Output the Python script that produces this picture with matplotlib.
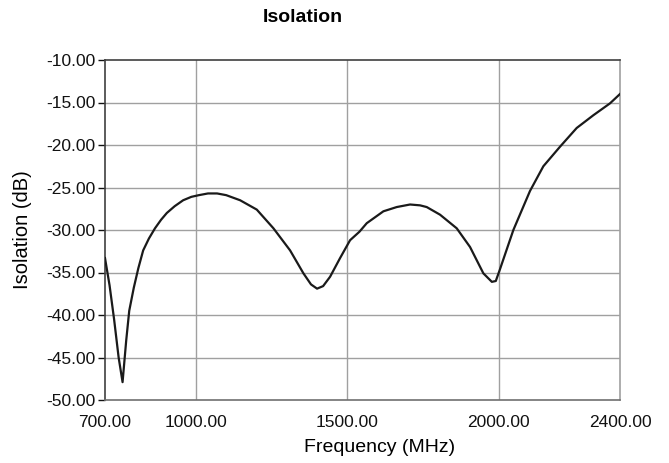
# Isolation vs frequency

import numpy as np
import matplotlib.pyplot as plt

freq_mhz = [700, 715, 730, 745, 758, 770, 780, 795, 810, 826, 845, 865, 885, 904,
            930, 958, 985, 1010, 1040, 1070, 1100, 1146, 1201, 1256, 1311, 1355,
            1380, 1400, 1420, 1443, 1476, 1509, 1540, 1564, 1619, 1663, 1707, 1740,
            1762, 1806, 1861, 1905, 1949, 1977, 1990, 2003, 2048, 2103, 2147, 2202,
            2257, 2312, 2367, 2400]
isolation_db = [-33.3, -36.5, -40.5, -45.0, -47.9, -43.0, -39.5, -36.8, -34.5, -32.4,
                -31.0, -29.8, -28.8, -28.0, -27.2, -26.5, -26.1, -25.9, -25.7, -25.7,
                -25.9, -26.5, -27.6, -29.8, -32.4, -35.1, -36.4, -36.9, -36.6, -35.5,
                -33.3, -31.2, -30.2, -29.2, -27.8, -27.3, -27.0, -27.1, -27.3, -28.2,
                -29.8, -32.0, -35.1, -36.1, -36.0, -34.7, -30.0, -25.4, -22.5, -20.2,
                -18.0, -16.5, -15.1, -14.0]

x_ticks = [700, 1000, 1500, 2000, 2400]
y_ticks = [-10, -15, -20, -25, -30, -35, -40, -45, -50]

plt.rcParams['font.family'] = ['Liberation Sans', 'DejaVu Sans']

fig = plt.figure(figsize=(6.69, 4.63), dpi=100)
ax = fig.add_axes([105/669, 1 - 400/463, 515/669, 340/463])

ax.plot(freq_mhz, isolation_db, color='#1a1a1a', lw=1.6, zorder=3)

ax.set_xlim(700, 2400)
ax.set_ylim(-50, -10)
ax.set_xticks(x_ticks)
ax.set_xticklabels(['%.2f' % v for v in x_ticks])
ax.set_yticks(y_ticks)
ax.set_yticklabels(['%.2f' % v for v in y_ticks])

# grid only on inner lines
for v in [1000, 1500, 2000]:
    ax.axvline(v, color='#a0a0a0', lw=1, zorder=1)
for v in y_ticks[1:-1]:
    ax.axhline(v, color='#a0a0a0', lw=1, zorder=1)

ax.tick_params(axis='x', length=0, pad=11, labelsize=12.5, colors='#111111')
ax.tick_params(axis='y', length=5, width=1, pad=2, labelsize=12.5, colors='#111111')

ax.spines['left'].set_color('#404040')
ax.spines['top'].set_color('#404040')
ax.spines['right'].set_color('#a0a0a0')
ax.spines['bottom'].set_color('#707070')
for s in ax.spines.values():
    s.set_linewidth(1.2)

ax.set_xlabel('Frequency (MHz)', fontsize=14)
ax.xaxis.set_label_coords((380 - 105) / 515, -39 / 340)
ax.set_ylabel('Isolation (dB)', fontsize=14.5, labelpad=10)
fig.text(303/669, 1 - 17/463, 'Isolation', ha='center', va='center',
         fontsize=14, fontweight='bold')

plt.savefig('out.png', dpi=100)
